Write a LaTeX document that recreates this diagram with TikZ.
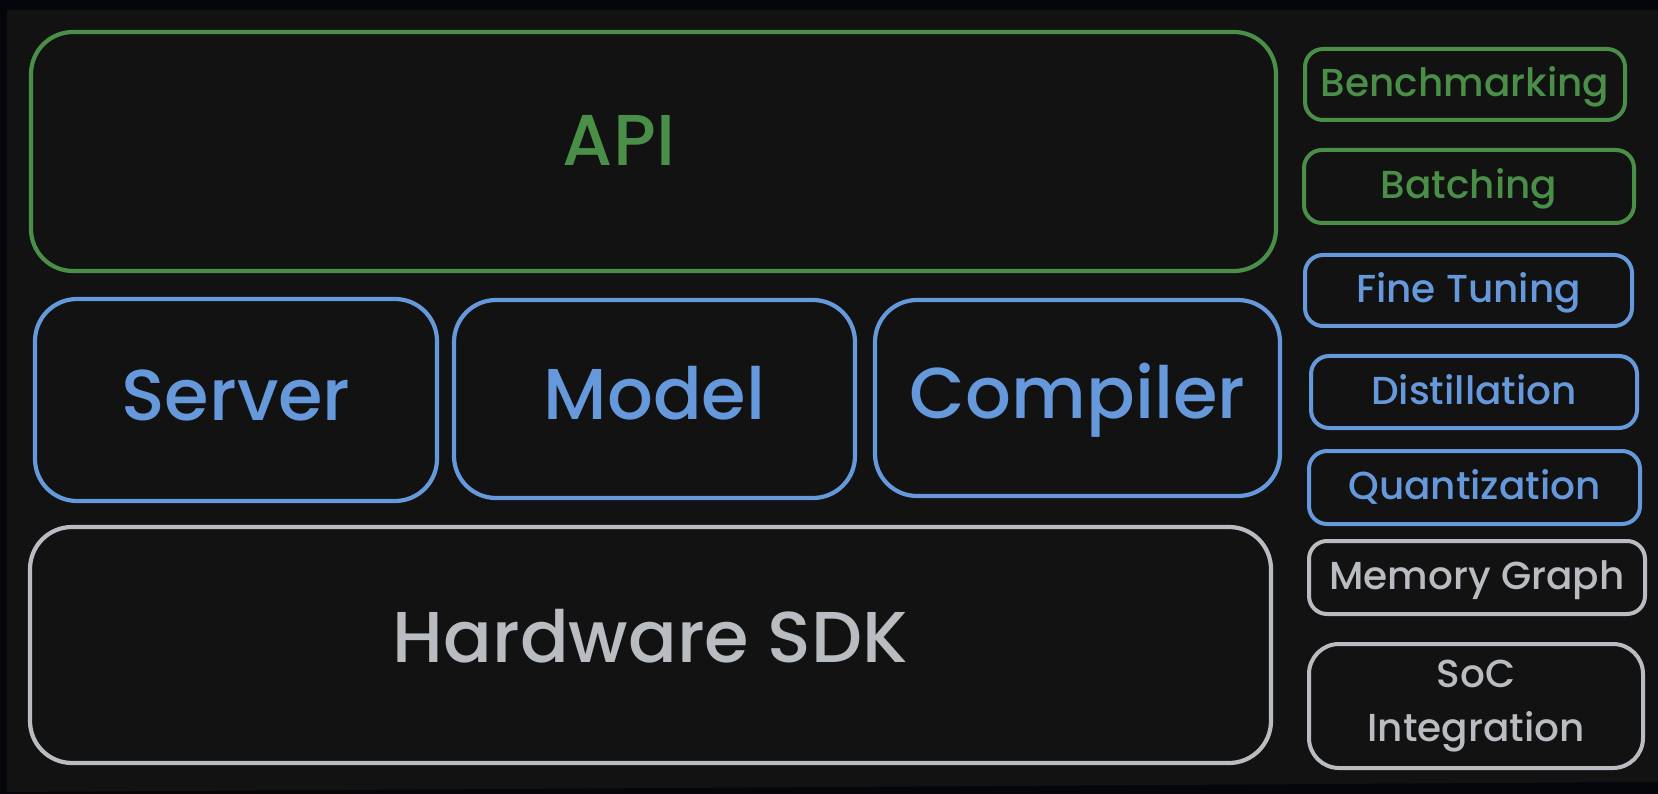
\documentclass[tikz,border=0pt]{standalone}
\usepackage{fontspec}
\usepackage{xcolor}
\usetikzlibrary{positioning, calc}
\newfontfamily\handfont{Poppins Medium}
\definecolor{frame}{HTML}{05060B}
\definecolor{canvas}{HTML}{121212}
\definecolor{leaf}{HTML}{4A8F47}
\definecolor{sky}{HTML}{6699DC}
\definecolor{stone}{HTML}{B9BCC0}
\tikzset{
  layer/.style={
    draw, line width=4.2pt, rounded corners=42pt, inner sep=0pt,
    font=\handfont\fontsize{72}{78}\selectfont, align=center,
    text height=46pt, text depth=6pt,
  },
  tool/.style={
    draw, line width=4pt, rounded corners=18pt, inner sep=0pt,
    font=\handfont\fontsize{39}{54}\selectfont, align=center,
  },
  oneline/.style={text height=30pt, text depth=6pt},
  lgreen/.style={draw=leaf, text=leaf},
  lblue/.style={draw=sky, text=sky},
  lgray/.style={draw=stone, text=stone},
}
\begin{document}
\begin{tikzpicture}[x=1pt, y=-1pt]

  \useasboundingbox (0,0) rectangle (1658,794);
  \fill[frame] (0,0) rectangle (1658,794);
  \fill[canvas] (7,10) -- (1658,10) -- (1658,782) -- (7,792) -- cycle;

  % stack on the left
  \node[layer, lgreen, minimum width=1245pt, minimum height=239pt] (api) at (653.5,151.5) {};
  \node[font=\handfont\fontsize{72}{78}\selectfont, text=leaf, anchor=base] (apitxt) at (619,166) {API};

  \node[layer, lblue, minimum width=402pt, minimum height=202pt] (server)   at (236,400)    {Server};
  \node[layer, lblue, minimum width=401pt, minimum height=198pt] (model)    at (654.5,399)  {Model};
  \node[layer, lblue, minimum width=405pt, minimum height=196pt] (compiler) at (1077.5,398) {Compiler};

  \node[layer, lgray, minimum width=1241pt, minimum height=236pt,
        text height=40pt] (sdk) at (650.5,645) {Hardware SDK};

  % column of tools on the right
  \node[tool, oneline, lgreen, minimum width=320pt, minimum height=71pt] (bench) at (1465,84.5)   {Benchmarking};
  \node[tool, oneline, lgreen, minimum width=330pt, minimum height=73pt] (batch) at (1469,186.5)  {Batching};
  \node[tool, oneline, lblue,  minimum width=327pt, minimum height=71pt] (tune)  at (1468.5,290.5) {Fine Tuning};
  \node[tool, oneline, lblue,  minimum width=326pt, minimum height=72pt] (dist)  at (1474,392)   {Distillation};
  \node[tool, oneline, lblue,  minimum width=331pt, minimum height=73pt] (quant) at (1474.5,487.5) {Quantization};
  \node[tool, oneline, lgray,  minimum width=336pt, minimum height=73pt] (mem)   at (1477,577.5)  {Memory Graph};
  \node[tool, lgray, rounded corners=30pt, minimum width=334pt, minimum height=124pt] (soc) at (1476,706) {SoC\\Integration};

\end{tikzpicture}
\end{document}
